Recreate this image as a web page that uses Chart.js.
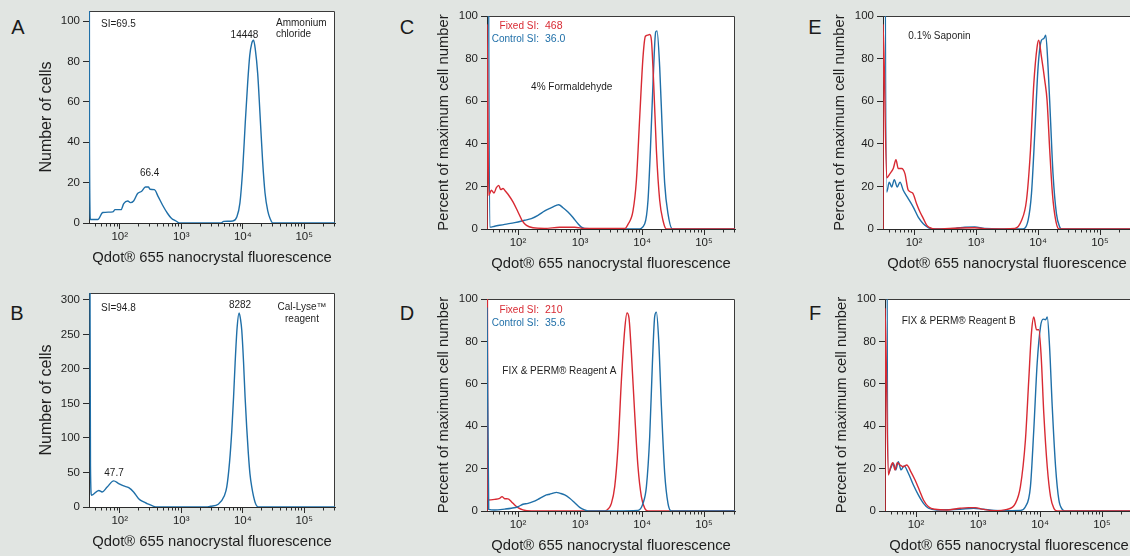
<!DOCTYPE html>
<html>
<head>
<meta charset="utf-8">
<script src="https://cdn.jsdelivr.net/npm/chart.js@4.4.0/dist/chart.umd.min.js"></script>
<style>
  html, body { margin: 0; padding: 0; }
  body {
    width: 1130px; height: 556px; overflow: hidden; position: relative;
    background: #e1e5e2; font-family: "Liberation Sans", Arial, sans-serif;
  }
  canvas { position: absolute; }
  .letter {
    position: absolute; font-size: 20px; line-height: 20px; color: #1a1a1a;
    transform: translate(-50%, -50%);
  }
</style>
</head>
<body>
<div class="letter" style="left:18px;top:27px">A</div>
<div class="letter" style="left:17px;top:313px">B</div>
<div class="letter" style="left:407px;top:27px">C</div>
<div class="letter" style="left:407px;top:313px">D</div>
<div class="letter" style="left:815px;top:27px">E</div>
<div class="letter" style="left:815px;top:313px">F</div>

<canvas id="panelA"></canvas>
<canvas id="panelB"></canvas>
<canvas id="panelC"></canvas>
<canvas id="panelD"></canvas>
<canvas id="panelE"></canvas>
<canvas id="panelF"></canvas>

<script>
/* ------------------ AXES ------------------ */
const xMin = 31.62;      // 10^1.5
const xMax = 316228;     // 10^5.5
const xTickValues = [100, 1000, 10000, 100000];
const xTickLabels = ['10²', '10³', '10⁴', '10⁵'];
const yTicksCells = [0, 20, 40, 60, 80, 100];
const yTicksCellsB = [0, 50, 100, 150, 200, 250, 300];
const yTicksPercent = [0, 20, 40, 60, 80, 100];

/* ------------------ DATA (fluorescence, count) ------------------ */
// A - ammonium chloride
const aX = [31.7, 32.2, 33.4, 44, 53, 77, 84, 105, 116, 135, 149, 168, 195, 227, 261, 292, 311, 365, 424, 498, 600, 697, 820, 927,
            4400, 4900, 6900, 8000, 9000, 10000, 11000, 12000, 13000, 14000, 15000, 16000, 17500, 19000, 21000, 23000, 25500, 28000, 31000, 316000];
const aY = [300, 40, 1.7, 1.7, 5.2, 5.5, 6.6, 6.6, 9.6, 10.9, 10.1, 10.9, 14.6, 15.7, 17.8, 17.8, 16.7, 16.5, 12.9, 8.8, 4.7, 2.2, 1, 0,
            0, 0.8, 1, 3, 10, 27, 50, 69, 83, 89, 90.5, 86, 74, 55, 31, 15, 6, 2, 0, 0];

// B - Cal-Lyse reagent
const bX = [31.7, 33.4, 34.7, 45.6, 51.7, 62.4, 79.8, 96, 116, 140, 168, 203, 245, 278, 356, 404,
            2500, 3000, 4000, 5000, 5500, 6100, 6640, 7100, 7510, 8100, 8720, 9200, 9640, 10300, 10900, 11600, 12340, 13100, 14000, 15850, 17900, 316000];
const bY = [900, 60, 17, 24, 21.8, 29, 37.8, 34, 30.5, 28, 21.8, 12, 7.3, 5, 1, 0,
            0, 1, 4, 16, 29, 65, 111, 160, 208, 260, 281, 272, 256, 210, 160, 115, 77, 48, 29, 7, 0, 0];

// C - 4% formaldehyde
const cFixedX = [31.65, 31.75, 33.7, 37.2, 41, 44.8, 48.9, 52.6, 57.3, 62.6, 69, 83, 100, 116, 137, 175, 269, 470, 822, 1190,
                 5250, 5940, 7160, 8130, 9190, 10380, 11350, 12300, 13310, 14190, 15450, 17070, 19290, 21810, 24760, 316000];
const cFixedY = [0, 96, 15.8, 18.2, 16.9, 19.4, 20.5, 18.5, 19, 17.8, 16.3, 12.7, 8, 4.1, 1.7, 0.6, 0.3, 0.8, 0.8, 0.2,
                 0.2, 2.2, 8.5, 23, 52.6, 80.7, 90.5, 91, 91.3, 88.6, 68, 37, 13.5, 4, 0, 0];
const cControlX = [31.7, 35, 42, 61, 88.5, 128, 164, 210, 270, 346, 416, 453, 532, 640, 771, 929, 1054, 1190,
                   8610, 11070, 12500, 13650, 15030, 16630, 17460, 19290, 21320, 23230, 26240, 30900, 316000];
const cControlY = [400, 0.9, 1.3, 2.2, 3, 4.1, 4.9, 6.4, 8.5, 10, 11.1, 11.4, 10, 8, 5.4, 2.5, 0.9, 0.3,
                   0, 2.5, 13.5, 37, 68, 92.5, 93, 76, 44.8, 21.3, 7.2, 0, 0];

// D - FIX & PERM reagent A
const dFixedX = [31.65, 31.75, 32.8, 42, 50.7, 55.2, 61, 69, 78.3, 88.5, 100, 120, 164,
                 2400, 2670, 3210, 3630, 4100, 4660, 5260, 5730, 6170, 6740, 7620, 8610, 9770, 11070, 12500, 316000];
const dFixedY = [0, 150, 5.2, 5.5, 6, 6.8, 5.8, 5.7, 4.4, 2.8, 1.6, 0.5, 0,
                 0, 0.3, 3.6, 11.5, 30, 62, 85.5, 93.4, 91, 74.5, 46, 21, 6.8, 1.3, 0, 0];
const dControlX = [31.7, 33.7, 42, 61, 78.3, 100, 120, 145, 175, 210, 253, 287, 324, 367, 416, 471, 567, 682, 822, 989, 1190, 1350,
                   8610, 10380, 11780, 13310, 14720, 16030, 17070, 18580, 20550, 23230, 26240, 29760, 316000];
const dControlY = [96, 0.8, 0.5, 0.9, 1.3, 2, 3.2, 3.6, 4.4, 5.5, 6.8, 7.6, 7.9, 8.4, 8.8, 8.4, 7.6, 6, 3.9, 1.7, 0.5, 0,
                   0.3, 3.6, 11.5, 35, 69.8, 91.8, 93.8, 80.8, 49.3, 17.8, 3.6, 0, 0];

// E - 0.1% saponin
const eFixedX = [31.65, 31.75, 36.3, 41, 46.3, 51.2, 55.7, 63.2, 71.4, 80.7, 95, 110, 125, 141, 160, 181, 217, 550, 955, 1660,
                 4230, 5420, 6520, 7560, 8550, 9660, 10280, 11370, 12850, 14000, 15460, 17090, 19310, 21830, 316000];
const eFixedY = [0, 96, 24, 26, 28.4, 32.5, 28.4, 28.4, 26, 18.2, 16.9, 11.9, 8, 5, 1.8, 0.6, 0, 0.5, 0.6, 0,
                 0.3, 4, 13.5, 37, 68, 85.4, 88.6, 80.8, 69.8, 60.4, 37, 16.6, 4, 0, 0];
const eControlX = [31.7, 36.3, 39.9, 43.6, 48.1, 53.7, 59.4, 67.1, 80.7, 97.3, 117, 141, 170, 204, 460, 661, 955, 1380,
                   5740, 6920, 7850, 8870, 10030, 11370, 12380, 13340, 14530, 15850, 17460, 19820, 22390, 23870, 316000];
const eControlY = [400, 17.4, 22, 19.7, 23.2, 19.7, 22, 18.2, 14.3, 10.3, 5.6, 2.5, 0.7, 0, 0.3, 0.8, 1, 0.3,
                   0, 4, 16.6, 44.8, 76, 88.6, 89.4, 91, 76, 52.6, 26, 7.2, 0.9, 0, 0];

// F - FIX & PERM reagent B
const fFixedX = [31.65, 31.75, 35.8, 39.1, 42.1, 45.9, 50, 55.3, 62.5, 71, 82.4, 96.6, 113, 132, 159, 204, 315, 517, 705, 904, 1160, 1790, 2940,
                 4010, 4830, 5820, 6590, 7280, 7940, 8780, 9570, 10450, 11510, 13090, 14790, 16720, 18970, 316000];
const fFixedY = [0, 95.5, 17, 20.9, 22.8, 19.4, 22.8, 21.7, 20.9, 21.7, 18.6, 14.6, 9.9, 5.2, 2, 0.8, 0.5, 1.3, 1.6, 1.6, 0.9, 0.2, 0.8,
                 3.6, 11.5, 33.5, 61.9, 84, 91.5, 85.5, 85.5, 72.9, 46.1, 20.9, 6.8, 1.3, 0, 0];
const fControlX = [31.7, 35.8, 39.1, 43.1, 47.1, 51.9, 57.4, 64.2, 75.3, 90.8, 109, 132, 159, 217, 517, 849, 1230, 2300,
                   4830, 5820, 7010, 7940, 9010, 10190, 11270, 12280, 13090, 14260, 15750, 17830, 20150, 22860, 25860, 316000];
const fControlY = [400, 17.8, 20.2, 22.5, 19.4, 23.3, 19.4, 21.3, 17.8, 12.3, 7.6, 3.6, 1.3, 0.5, 0.8, 1.3, 0.8, 0.2,
                   0.3, 2, 11.5, 38.3, 69.8, 87, 90.5, 90.2, 91.5, 77.6, 49.3, 20.9, 5.2, 0.8, 0, 0];

/* ------------------ STYLE ------------------ */
const BLUE = '#1f6fa8';
const RED = '#d82a33';
const INK = '#1e1e1e';
const FONT = '"Liberation Sans", Arial, sans-serif';
Chart.defaults.font.family = FONT;

function series(xs, ys, color) {
    return {
        data: xs.map((x, i) => ({ x: x, y: ys[i] })),
        borderColor: color,
        borderWidth: 1.4,
        pointRadius: 0,
        fill: false,
        cubicInterpolationMode: 'monotone'
    };
}

// draws white plot box, frame, minor x ticks and the small texts
const panelPlugin = {
    id: 'panel',
    beforeDraw(chart) {
        const a = chart.chartArea;
        const ctx = chart.ctx;
        ctx.save();
        ctx.fillStyle = '#ffffff';
        ctx.fillRect(a.left, a.top, a.right - a.left, a.bottom - a.top);
        ctx.restore();
    },
    beforeDatasetsDraw(chart) {
        const a = chart.chartArea;
        const ctx = chart.ctx;
        ctx.save();
        ctx.strokeStyle = '#3a3a3a';
        ctx.lineWidth = 1;
        ctx.beginPath();
        ctx.moveTo(a.left, a.top + 0.5);
        ctx.lineTo(a.right - 0.5, a.top + 0.5);
        ctx.lineTo(a.right - 0.5, a.bottom);
        ctx.stroke();
        ctx.restore();
    },
    afterDraw(chart) {
        const a = chart.chartArea;
        const ctx = chart.ctx;
        const xs = chart.scales.x;
        ctx.save();
        // minor ticks 2..9 x 10^n
        ctx.strokeStyle = '#2a2a2a';
        ctx.lineWidth = 1;
        ctx.beginPath();
        for (let d = 10; d <= 100000; d *= 10) {
            for (let m = 2; m <= 9; m++) {
                const v = m * d;
                if (v < xMin || v > xMax) continue;
                const px = Math.round(xs.getPixelForValue(v)) + 0.5;
                ctx.moveTo(px, a.bottom);
                ctx.lineTo(px, a.bottom + 3.5);
            }
        }
        ctx.stroke();
        // notes
        const notes = chart.options.plugins.panel.notes || [];
        ctx.textBaseline = 'middle';
        notes.forEach(n => {
            ctx.font = `${n.size || 10}px ${FONT}`;
            ctx.fillStyle = n.color || INK;
            ctx.textAlign = n.align || 'left';
            ctx.fillText(n.text, a.left + n.dx, a.top + n.dy);
        });
        ctx.restore();
    }
};

function makePanel(id, box, datasets, yMax, yTicks, yTitle, titleSize, notes) {
    const canvas = document.getElementById(id);
    const padTop = 10, padRight = 6, yWidth = 52, xHeight = 44;
    canvas.width = box.R - box.L + yWidth + padRight;
    canvas.height = box.B - box.T + padTop + xHeight;
    canvas.style.left = (box.L - yWidth) + 'px';
    canvas.style.top = (box.T - padTop) + 'px';

    return new Chart(canvas, {
        type: 'line',
        data: { datasets: datasets },
        options: {
            responsive: false,
            animation: false,
            devicePixelRatio: 1,
            layout: { padding: { left: 0, top: padTop, right: padRight, bottom: 0 } },
            plugins: {
                legend: { display: false },
                tooltip: { enabled: false },
                panel: { notes: notes }
            },
            scales: {
                x: {
                    type: 'logarithmic',
                    min: xMin,
                    max: xMax,
                    afterBuildTicks: s => { s.ticks = xTickValues.map(v => ({ value: v })); },
                    afterFit: s => { s.height = xHeight; },
                    ticks: {
                        autoSkip: false,
                        maxRotation: 0,
                        padding: 1,
                        color: INK,
                        font: { size: 11.5 },
                        callback: (value, index) => xTickLabels[index]
                    },
                    grid: { drawOnChartArea: false, drawTicks: true, tickLength: 6, color: '#2a2a2a' },
                    border: { display: true, color: '#2a2a2a', width: 1 },
                    title: {
                        display: true,
                        text: 'Qdot® 655 nanocrystal fluorescence',
                        color: INK,
                        font: { size: 14.8 },
                        padding: 0
                    }
                },
                y: {
                    min: 0,
                    max: yMax,
                    afterBuildTicks: s => { s.ticks = yTicks.map(v => ({ value: v })); },
                    afterFit: s => { s.width = yWidth; },
                    ticks: { padding: 3, color: INK, font: { size: 11.5 } },
                    grid: { drawOnChartArea: false, drawTicks: true, tickLength: 6, color: '#2a2a2a' },
                    border: { display: true, color: '#2a2a2a', width: 1 },
                    title: {
                        display: true,
                        text: yTitle,
                        color: INK,
                        font: { size: titleSize },
                        padding: 0
                    }
                }
            }
        },
        plugins: [panelPlugin]
    });
}

/* ------------------ PANELS ------------------ */
makePanel('panelA', { L: 89, T: 11, R: 335, B: 223 },
    [series(aX, aY, BLUE)], 105, yTicksCells, 'Number of cells', 16, [
        { text: 'SI=69.5', dx: 12, dy: 13.5 },
        { text: 'Ammonium', dx: 187, dy: 12 },
        { text: 'chloride', dx: 187, dy: 23.7 },
        { text: '14448', dx: 155.5, dy: 24.5, align: 'center' },
        { text: '66.4', dx: 60.7, dy: 162.5, align: 'center' }
    ]);

makePanel('panelB', { L: 89, T: 293, R: 335, B: 507 },
    [series(bX, bY, BLUE)], 310, yTicksCellsB, 'Number of cells', 16, [
        { text: 'SI=94.8', dx: 12, dy: 15.3 },
        { text: '8282', dx: 151, dy: 12.5, align: 'center' },
        { text: 'Cal-Lyse™', dx: 213, dy: 14.5, align: 'center' },
        { text: 'reagent', dx: 213, dy: 26, align: 'center' },
        { text: '47.7', dx: 25, dy: 180, align: 'center' }
    ]);

makePanel('panelC', { L: 487, T: 16, R: 735, B: 229 },
    [series(cFixedX, cFixedY, RED), series(cControlX, cControlY, BLUE)], 100, yTicksPercent,
    'Percent of maximum cell number', 14.8, [
        { text: 'Fixed SI:', dx: 52, dy: 10.3, align: 'right', color: RED },
        { text: '468', dx: 58, dy: 10.3, color: RED, size: 10.5 },
        { text: 'Control SI:', dx: 52, dy: 22.8, align: 'right', color: BLUE },
        { text: '36.0', dx: 58, dy: 22.8, color: BLUE, size: 10.5 },
        { text: '4% Formaldehyde', dx: 84.7, dy: 71.3, align: 'center' }
    ]);

makePanel('panelD', { L: 487, T: 299, R: 735, B: 511 },
    [series(dControlX, dControlY, BLUE), series(dFixedX, dFixedY, RED)], 100, yTicksPercent,
    'Percent of maximum cell number', 14.8, [
        { text: 'Fixed SI:', dx: 52, dy: 11.3, align: 'right', color: RED },
        { text: '210', dx: 58, dy: 11.3, color: RED, size: 10.5 },
        { text: 'Control SI:', dx: 52, dy: 24, align: 'right', color: BLUE },
        { text: '35.6', dx: 58, dy: 24, color: BLUE, size: 10.5 },
        { text: 'FIX & PERM® Reagent A', dx: 15.3, dy: 72 }
    ]);

makePanel('panelE', { L: 883, T: 16, R: 1131, B: 229 },
    [series(eFixedX, eFixedY, RED), series(eControlX, eControlY, BLUE)], 100, yTicksPercent,
    'Percent of maximum cell number', 14.8, [
        { text: '0.1% Saponin', dx: 25.3, dy: 20.3 }
    ]);

makePanel('panelF', { L: 885, T: 299, R: 1133, B: 511 },
    [series(fFixedX, fFixedY, RED), series(fControlX, fControlY, BLUE)], 100, yTicksPercent,
    'Percent of maximum cell number', 14.8, [
        { text: 'FIX & PERM® Reagent B', dx: 16.7, dy: 22 }
    ]);
</script>
</body>
</html>
